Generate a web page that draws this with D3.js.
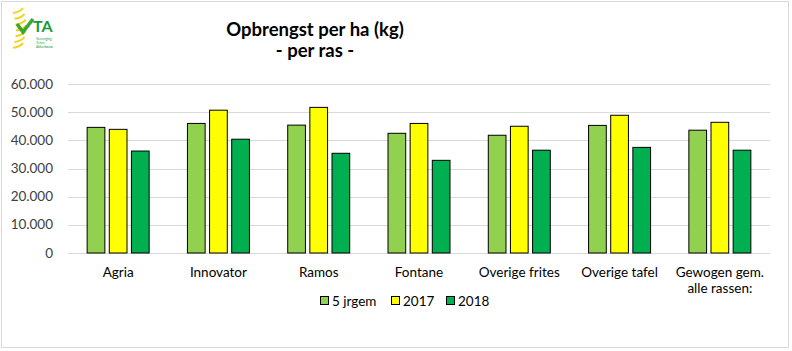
<!DOCTYPE html>
<html><head><meta charset="utf-8">
<script src="https://cdn.jsdelivr.net/npm/d3@7"></script>
<style>body{margin:0;background:#fff;} svg{display:block;font-family:Lato,'Open Sans',sans-serif;}</style>
</head><body>
<script>
const categories = ["Agria","Innovator","Ramos","Fontane","Overige frites","Overige tafel","Gewogen gem.|alle rassen:"];
const seriesNames = ["5 jrgem","2017","2018"];
const jrgem5 = [44600,46000,45400,42500,41800,45300,43600];
const y2017 = [43900,50700,51700,46000,45000,48900,46400];
const y2018 = [36200,40400,35400,32900,36500,37500,36500];
const yTicks = [0,10000,20000,30000,40000,50000,60000];
const colors = ["#92d050","#ffff00","#00b050"];
const values = [jrgem5,y2017,y2018];

const W=792,H=351;
const svg=d3.select("body").append("svg").attr("width",W).attr("height",H);
svg.append("rect").attr("x",1.5).attr("y",1.5).attr("width",787).attr("height",346).attr("fill","#fff").attr("stroke","#d9d9d9");

const x=d3.scaleBand().domain(d3.range(categories.length)).range([68,770]);
const x1=d3.scaleBand().domain(d3.range(3)).range([0,62]).paddingInner(0.2);
const y=d3.scaleLinear().domain([0,60000]).range([253,84]);
const fmt=v=>d3.format(",")(v).replace(/,/g,".");

svg.append("g").selectAll("line").data(yTicks).join("line")
 .attr("x1",68).attr("x2",770).attr("y1",d=>Math.round(y(d))+0.5).attr("y2",d=>Math.round(y(d))+0.5)
 .attr("stroke","#d9d9d9").attr("stroke-width",1);
svg.append("g").selectAll("text").data(yTicks).join("text")
 .attr("x",53).attr("y",d=>y(d)+4.5).attr("text-anchor","end").attr("font-size",13.5).attr("fill","#404040")
 .text(fmt);

categories.forEach((c,i)=>{
  const g=svg.append("g").attr("transform",`translate(${x(i)+x.bandwidth()/2-31},0)`);
  values.forEach((s,j)=>{
    g.append("rect").attr("x",x1(j)).attr("width",x1.bandwidth())
     .attr("y",y(s[i])).attr("height",y(0)-y(s[i]))
     .attr("fill",colors[j]).attr("stroke","#000").attr("stroke-width",1);
  });
});

categories.forEach((c,i)=>{
  const lines=c.split("|");
  const t=svg.append("text").attr("x",x(i)+x.bandwidth()/2).attr("y",277).attr("text-anchor","middle")
   .attr("font-size",13.5).attr("fill","#000");
  lines.forEach((l,k)=>t.append("tspan").attr("x",x(i)+x.bandwidth()/2).attr("dy",k?16:0).text(l));
});

svg.append("text").attr("x",315).attr("y",36).attr("text-anchor","middle").attr("font-size",18.5).attr("font-weight","bold").text("Opbrengst per ha (kg)");
svg.append("text").attr("x",315).attr("y",57).attr("text-anchor","middle").attr("font-size",18.5).attr("font-weight","bold").text("- per ras -");

const legX=[320,391,446];
seriesNames.forEach((n,j)=>{
  svg.append("rect").attr("x",legX[j]+0.5).attr("y",296.5).attr("width",8).attr("height",8).attr("fill",colors[j]).attr("stroke","#000");
  svg.append("text").attr("x",legX[j]+12).attr("y",305.5).attr("font-size",13.5).text(n);
});

// logo
const logo=svg.append("g");
[0,1,2,3,4,5,6].forEach(k=>{
  logo.append("path").attr("d",`M${13+Math.sin(k/6*Math.PI)*3},${13+k*5.8} q7,-1 10,-5`).attr("stroke","#f5d21a").attr("stroke-width",2).attr("fill","none");
});
logo.append("path").attr("d","M17,24 L23,32 L33,19").attr("stroke","#3aa635").attr("stroke-width",3.5).attr("fill","none");
logo.append("text").attr("x",33).attr("y",32).attr("font-size",16).attr("font-weight","bold").attr("fill","#1a9b3a").text("TA");
["Vereniging","Telers","Akkerbouw"].forEach((t,k)=>logo.append("text").attr("x",36).attr("y",40+k*4).attr("font-size",3.4).attr("fill","#1a9b3a").text(t));
</script>
</body></html>
